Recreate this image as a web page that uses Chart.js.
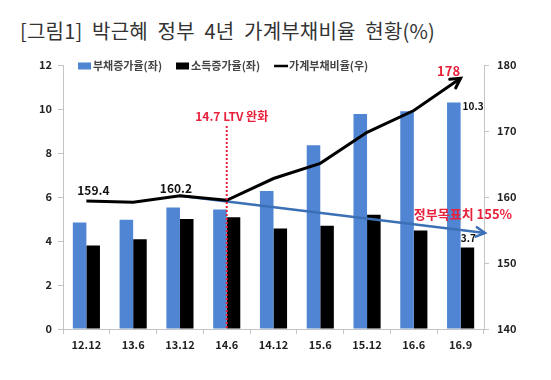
<!DOCTYPE html>
<html>
<head>
<meta charset="utf-8">
<script src="https://cdn.jsdelivr.net/npm/chart.js@4"></script>
<style>
  html, body { margin: 0; padding: 0; background: #fff; }
  #wrap { position: relative; width: 551px; height: 380px; }
  #title {
    position: absolute; left: 20px; top: 16px;
    font-family: "Noto Sans CJK KR", sans-serif; font-size: 20px; color: #333;
    white-space: nowrap; letter-spacing: 0.2px; word-spacing: 5px;
  }
  canvas { position: absolute; left: 0; top: 0; }
</style>
</head>
<body>
<div id="wrap">
  <div id="title">[그림1] 박근혜 정부 4년 가계부채비율 현황(%)</div>
  <canvas id="chart" width="551" height="380"></canvas>
</div>
<script>
const categories = ['12.12', '13.6', '13.12', '14.6', '14.12', '15.6', '15.12', '16.6', '16.9'];
const debtGrowth = [4.84, 4.97, 5.52, 5.43, 6.27, 8.35, 9.77, 9.9, 10.3];
const incomeGrowth = [3.79, 4.08, 5.0, 5.08, 4.57, 4.69, 5.19, 4.48, 3.7];
const debtRatio = [159.4, 159.2, 160.2, 159.5, 162.8, 165.1, 169.8, 173.1, 178];
const targetLine = [null, null, 160.2, null, null, null, null, null, 155];
const seriesNames = ['부채증가율(좌)', '소득증가율(좌)', '가계부채비율(우)'];

const FONT = '"Noto Sans CJK KR", sans-serif';
const BLUE = '#4f85d2';
const RED = '#e8213b';
const AXIS = '#c4c4c4';

function arrowHead(ctx, x0, y0, x1, y1, size, color, width) {
    const a = Math.atan2(y1 - y0, x1 - x0);
    ctx.save();
    ctx.strokeStyle = color;
    ctx.lineWidth = width;
    ctx.lineCap = 'round';
    ctx.beginPath();
    ctx.moveTo(x1 - size * Math.cos(a - 0.5), y1 - size * Math.sin(a - 0.5));
    ctx.lineTo(x1, y1);
    ctx.lineTo(x1 - size * Math.cos(a + 0.5), y1 - size * Math.sin(a + 0.5));
    ctx.stroke();
    ctx.restore();
}

// legend, annotations and value labels
const extras = {
    id: 'extras',
    afterDatasetsDraw(chart) {
        const ctx = chart.ctx;
        const area = chart.chartArea;
        const xs = chart.scales.x;
        const y1 = chart.scales.y1;

        // red dotted LTV line
        const lx = xs.getPixelForValue(3);
        ctx.save();
        ctx.strokeStyle = RED;
        ctx.lineWidth = 2;
        ctx.setLineDash([2, 2]);
        ctx.beginPath();
        ctx.moveTo(lx, area.top + 61);
        ctx.lineTo(lx, area.bottom);
        ctx.stroke();
        ctx.restore();

        // target arrow extension
        const tm = chart.getDatasetMeta(3).data;
        const t0 = tm[2], t1 = tm[8];
        const ex = area.right + 1;
        const ey = t0.y + (t1.y - t0.y) * (ex - t0.x) / (t1.x - t0.x);
        ctx.save();
        ctx.strokeStyle = '#3c70b6';
        ctx.lineWidth = 2.5;
        ctx.beginPath();
        ctx.moveTo(t1.x, t1.y);
        ctx.lineTo(ex, ey);
        ctx.stroke();
        ctx.restore();
        arrowHead(ctx, t0.x, t0.y, ex, ey, 10, '#3c70b6', 2.5);

        // ratio line arrow
        const rm = chart.getDatasetMeta(2).data;
        arrowHead(ctx, rm[7].x, rm[7].y, rm[8].x, rm[8].y, 11, '#000', 3);

        ctx.save();
        ctx.textBaseline = 'middle';
        ctx.textAlign = 'center';
        ctx.fillStyle = RED;
        ctx.font = 'bold 12px ' + FONT;
        ctx.fillText('14.7 LTV 완화', lx + 5, area.top + 51);
        ctx.font = 'bold 13px ' + FONT;
        ctx.fillText(debtRatio[8], rm[8].x - 12, rm[8].y - 7);
        ctx.fillText('정부목표치 155%', area.right - 21, y1.getPixelForValue(155) - 16);

        ctx.fillStyle = '#111';
        ctx.font = 'bold 12px ' + FONT;
        ctx.fillText(debtRatio[0], rm[0].x + 7, rm[0].y - 11);
        ctx.fillText(debtRatio[2], rm[2].x - 4, rm[2].y - 7);

        ctx.font = 'bold 10px ' + FONT;
        const b1 = chart.getDatasetMeta(0).data[8];
        const b2 = chart.getDatasetMeta(1).data[8];
        ctx.textAlign = 'left';
        ctx.fillText(debtGrowth[8], b1.x + b1.width / 2 + 2, b1.y + 4);
        ctx.textAlign = 'center';
        ctx.fillText(incomeGrowth[8], b2.x + 1, b2.y - 9);

        // legend
        ctx.font = 'bold 11px ' + FONT;
        ctx.textAlign = 'left';
        ctx.fillStyle = '#444';
        let x = area.left + 15;
        const ly = area.top + 1;
        chart.data.datasets.slice(0, 3).forEach((ds, i) => {
            if (i === 2) {
                ctx.strokeStyle = '#000';
                ctx.lineWidth = 2.5;
                ctx.beginPath();
                ctx.moveTo(x, ly);
                ctx.lineTo(x + 14, ly);
                ctx.stroke();
            } else {
                ctx.fillStyle = ds.backgroundColor;
                ctx.fillRect(x, ly - 3.5, 13, 7);
            }
            ctx.fillStyle = '#444';
            ctx.fillText(ds.label, x + 15, ly);
            x += 15 + ctx.measureText(ds.label).width + 14;
        });
        ctx.restore();
    }
};

const tickFont = { family: FONT, size: 11, weight: 'bold' };

new Chart(document.getElementById('chart'), {
    type: 'bar',
    data: {
        labels: categories,
        datasets: [
            { label: seriesNames[0], data: debtGrowth, backgroundColor: BLUE, yAxisID: 'y', order: 3,
              categoryPercentage: 0.58, barPercentage: 1.0 },
            { label: seriesNames[1], data: incomeGrowth, backgroundColor: '#000', yAxisID: 'y', order: 3,
              categoryPercentage: 0.58, barPercentage: 1.0 },
            { type: 'line', label: seriesNames[2], data: debtRatio, borderColor: '#000', backgroundColor: '#000',
              borderWidth: 3, pointRadius: 0, tension: 0, yAxisID: 'y1', order: 1 },
            { type: 'line', label: 'target', data: targetLine, borderColor: '#3c70b6', borderWidth: 2.5,
              pointRadius: 0, spanGaps: true, yAxisID: 'y1', order: 2 }
        ]
    },
    options: {
        responsive: false,
        animation: false,
        layout: { padding: { top: 65, left: 0, right: 0, bottom: 0 } },
        plugins: {
            legend: { display: false },
            tooltip: { enabled: false }
        },
        scales: {
            x: {
                grid: { display: true, drawOnChartArea: false, tickLength: 5, color: AXIS },
                border: { color: AXIS },
                ticks: { color: '#222', font: tickFont, padding: 4 },
                afterFit: s => { s.height = 51; }
            },
            y: {
                position: 'left',
                min: 0, max: 12,
                grid: { display: true, drawOnChartArea: false, tickLength: 5, color: AXIS },
                border: { color: AXIS },
                ticks: { stepSize: 2, color: '#222', font: tickFont, padding: 6 },
                afterFit: s => { s.width = 63; }
            },
            y1: {
                position: 'right',
                min: 140, max: 180,
                grid: { display: true, drawOnChartArea: false, tickLength: 5, color: AXIS },
                border: { color: AXIS },
                ticks: { stepSize: 10, color: '#222', font: tickFont, padding: 8 },
                afterFit: s => { s.width = 67; }
            }
        }
    },
    plugins: [extras]
});
</script>
</body>
</html>
